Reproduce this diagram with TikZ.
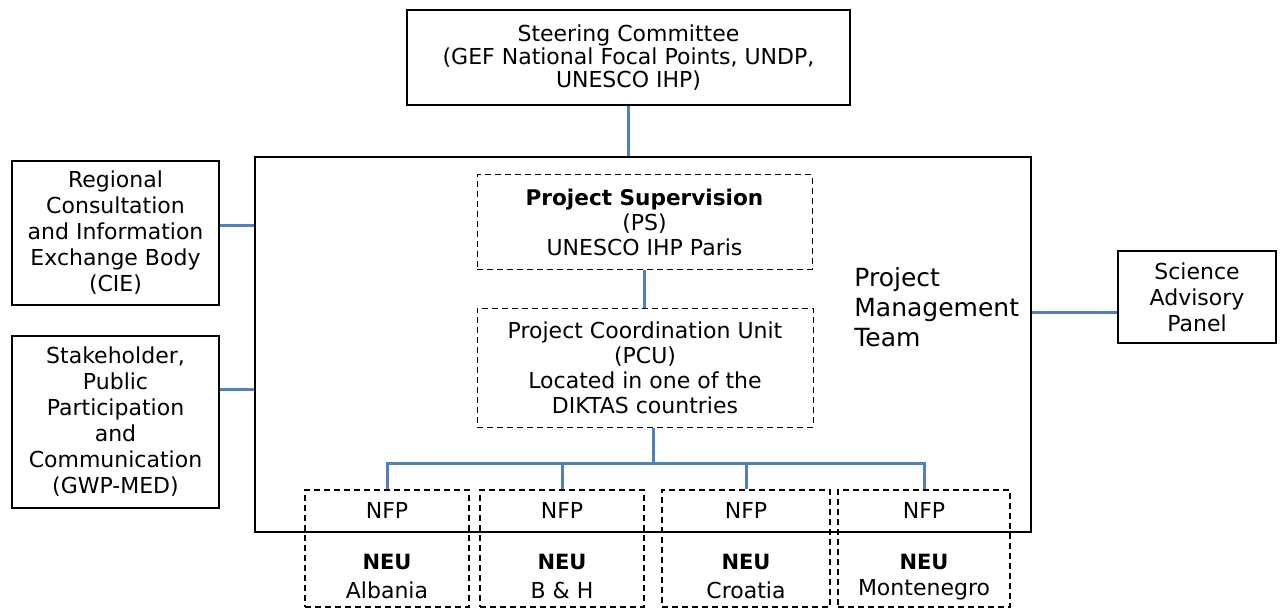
\documentclass[tikz,border=0pt]{standalone}
\usepackage{fontspec}
\setmainfont{DejaVu Sans}
\usetikzlibrary{calc,positioning}
\definecolor{LinkBlue}{RGB}{79,129,189}

\tikzset{
  body/.style={draw, line width=0.75pt, align=center, inner sep=0pt,
    font=\fontsize{11}{13}\selectfont},
  unitbox/.style={draw, densely dashed, line width=0.5pt, align=center, inner sep=0pt,
    font=\fontsize{11}{12.5}\selectfont},
  nfpbox/.style={draw, dash pattern=on 3pt off 2pt, line width=0.8pt, inner sep=0pt,
    minimum height=58.5pt},
  link/.style={LinkBlue, line width=1.5pt},
  lbl/.style={inner sep=0pt, font=\fontsize{11}{12}\selectfont}
}

\begin{document}
\begin{tikzpicture}[x=0.5pt,y=-0.5pt]
  \useasboundingbox (0,0) rectangle (1281,610);

  % outer management box and the groups around it
  \node[body, minimum width=388pt, minimum height=187.5pt] (pmt) at (643,344.5) {};
  \node[body, minimum width=221.5pt, minimum height=47.5pt,
        font=\fontsize{11}{11.5}\selectfont] (steer) at (628.5,57.5)
    {Steering Committee\\(GEF National Focal Points, UNDP,\\UNESCO IHP)};
  \node[body, minimum width=103.5pt, minimum height=72pt] (cie) at (115.5,233)
    {Regional\\Consultation\\and Information\\Exchange Body\\(CIE)};
  \node[body, minimum width=103.5pt, minimum height=86pt] (gwp) at (115.5,422)
    {Stakeholder,\\Public\\Participation\\and\\Communication\\(GWP-MED)};
  \node[body, minimum width=79pt, minimum height=46pt] (sap) at (1197,297)
    {Science\\Advisory\\Panel};
  \node[anchor=west, align=left, inner sep=0pt,
        font=\fontsize{12.5}{15}\selectfont] (pmtlbl) at (854,307)
    {Project\\Management\\Team};

  % supervision and coordination
  \node[unitbox, minimum width=167.5pt, minimum height=47pt] (ps) at (644.5,222)
    {{\fontsize{10.8}{12.5}\selectfont\bfseries Project Supervision}\\(PS)\\UNESCO IHP Paris};
  \node[unitbox, minimum width=168pt, minimum height=59.5pt] (pcu) at (645,367.5)
    {Project Coordination Unit\\(PCU)\\Located in one of the\\DIKTAS countries};

  % national units
  \foreach \nm/\cx/\bw/\cty in {A/387/82/Albania, B/562/82/B \& H,
                                C/746/84/Croatia, D/924/86/Montenegro}{
    \node[nfpbox, minimum width=\bw pt] (nfp\nm) at (\cx,548.5) {};
    \node[lbl] (nfp\nm top) at (\cx,510) {NFP};
    \node[lbl, font=\fontsize{10.5}{12}\selectfont\bfseries] (neu\nm) at (\cx,562) {NEU};
    \node[lbl] (cty\nm) at (\cx,590) {\cty};
  }

  % connectors
  \coordinate (bus) at (653,463);
  \draw[link] (steer.south) -- (steer.south |- pmt.north);
  \draw[link] ($(cie.north east)!0.45!(cie.south east)$) coordinate (c1) -- (c1 -| pmt.west);
  \draw[link] ($(gwp.north east)!0.31!(gwp.south east)$) coordinate (c2) -- (c2 -| pmt.west);
  \draw[link] ($(sap.north west)!0.67!(sap.south west)$) coordinate (c3) -- (c3 -| pmt.east);
  \draw[link] (ps.south) -- (ps.south |- pcu.north);
  \draw[link] (pcu.south -| bus) -- (bus);
  \draw[link] (nfpA.north) |- (bus) -| (nfpD.north);
  \draw[link] (nfpB.north |- bus) -- (nfpB.north);
  \draw[link] (nfpC.north |- bus) -- (nfpC.north);
\end{tikzpicture}
\end{document}
